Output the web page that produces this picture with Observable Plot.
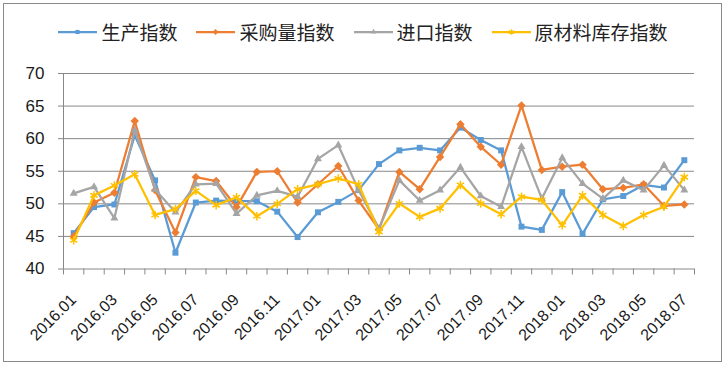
<!DOCTYPE html>
<html><head><meta charset="utf-8">
<script src="https://cdn.jsdelivr.net/npm/d3@7"></script>
<script src="https://cdn.jsdelivr.net/npm/@observablehq/plot@0.6"></script>
<style>
html,body{margin:0;padding:0;background:#fff;}
#wrap{position:relative;width:726px;height:365px;overflow:hidden;background:#fff;}
#frame{position:absolute;left:3px;top:3px;width:719px;height:359px;border:1px solid #898989;box-sizing:border-box;pointer-events:none;}
#legend{position:absolute;left:0;top:18px;width:726px;height:28px;line-height:28px;display:flex;justify-content:center;align-items:center;gap:19px;font-family:"Noto Sans CJK SC";font-size:19px;color:#222;}
.item{display:flex;align-items:center;gap:4px;}
.item svg{display:block;}
#chart svg{position:absolute;left:0;top:0;}
</style>
</head><body>
<div id="wrap"><div id="chart"></div><div id="legend"></div><div id="frame"></div></div>
<script>
const months = ["2016.01","2016.02","2016.03","2016.04","2016.05","2016.06","2016.07","2016.08","2016.09","2016.10","2016.11","2016.12",
"2017.01","2017.02","2017.03","2017.04","2017.05","2017.06","2017.07","2017.08","2017.09","2017.10","2017.11","2017.12",
"2018.01","2018.02","2018.03","2018.04","2018.05","2018.06","2018.07"];
const seriesNames = ["生产指数","采购量指数","进口指数","原材料库存指数"];
const production = [45.5,49.5,49.9,60.5,53.6,42.5,50.2,50.5,50.4,50.4,48.8,44.9,48.7,50.3,52.1,56.1,58.2,58.6,58.2,61.7,59.8,58.2,46.5,46.0,51.8,45.4,50.7,51.2,52.9,52.5,56.7];
const purchase = [45.0,50.2,51.7,62.7,52.1,45.6,54.1,53.5,49.5,54.9,55.0,50.2,53.0,55.8,50.5,46.1,54.9,52.25,57.2,62.2,58.75,56.0,65.1,55.2,55.7,56.0,52.25,52.45,53.0,49.7,49.9];
const imports = [51.6,52.6,47.8,61.3,52.2,48.7,53.0,53.1,48.5,51.3,52.0,51.1,56.9,59.0,52.1,46.2,53.6,50.5,52.1,55.6,51.2,49.55,58.75,50.8,57.05,53.1,50.8,53.6,52.1,55.9,52.1];
const stock = [44.4,51.3,52.8,54.55,48.3,49.2,52.0,49.8,51.0,48.1,50.0,52.25,53.0,53.9,53.0,45.7,50.05,48.0,49.3,52.9,50.05,48.4,51.1,50.6,46.7,51.3,48.3,46.6,48.3,49.55,54.1];
const yTicks = [40,45,50,55,60,65,70];
const colors = ["#5B9BD5","#ED7D31","#A5A5A5","#FFC000"];
const symbols = ["square2","diamond2","triangle2","asterisk"];

const seriesValues = [production, purchase, imports, stock];
const rows = seriesValues.map(vals => vals.map((v, i) => ({i, v})));
const labelIdx = months.map((_, i) => i).filter(i => i % 2 === 0);
const boundaries = d3.range(months.length + 1).map(i => i - 0.5);

const marks = [
  Plot.gridY({ticks: yTicks, stroke: "#888", strokeOpacity: 1}),
  Plot.ruleX([boundaries[0]], {stroke: "#888"}),
  Plot.axisY({ticks: yTicks, tickSize: 5, tickPadding: 14, stroke: "#888", fontSize: 17, fill: "#1a1a1a", label: null}),
  Plot.axisX({ticks: boundaries, tickSize: 6, tickFormat: () => "", stroke: "#888", label: null}),
  Plot.axisX({ticks: labelIdx, tickSize: 0, tickPadding: 28, tickRotate: -45, tickFormat: i => months[i], fontSize: 16, fill: "#1a1a1a", label: null})
];
rows.forEach((data, k) => {
  marks.push(Plot.line(data, {x: "i", y: "v", stroke: colors[k], strokeWidth: 2.25, strokeLinejoin: "round"}));
  if (symbols[k] === "asterisk") {
    marks.push(Plot.dot(data, {x: "i", y: "v", symbol: symbols[k], stroke: colors[k], strokeWidth: 1.5, r: 4}));
  } else {
    marks.push(Plot.dot(data, {x: "i", y: "v", symbol: symbols[k], fill: colors[k], r: 3.8}));
  }
});

const chart = Plot.plot({
  width: 726, height: 365,
  marginTop: 73, marginBottom: 96.5, marginLeft: 63, marginRight: 32,
  x: {type: "linear", domain: [boundaries[0], boundaries[boundaries.length - 1]], label: null},
  y: {domain: [yTicks[0], yTicks[yTicks.length - 1]], label: null},
  style: {fontFamily: "Liberation Sans", fontSize: "16px", color: "#1a1a1a", background: "transparent", overflow: "visible"},
  marks
});
document.getElementById("chart").appendChild(chart);

// legend
const legend = document.getElementById("legend");
seriesNames.forEach((name, k) => {
  const item = document.createElement("div");
  item.className = "item";
  const sym = d3.symbol().type({square2: d3.symbolSquare2, diamond2: d3.symbolDiamond2, triangle2: d3.symbolTriangle2, asterisk: d3.symbolAsterisk}[symbols[k]]).size(22)();
  const isStroke = symbols[k] === "asterisk";
  item.innerHTML = `<svg width="39" height="12"><line x1="0" x2="39" y1="6" y2="6" stroke="${colors[k]}" stroke-width="2.25"/><path transform="translate(19.5,6)" d="${sym}" ${isStroke ? `fill="none" stroke="${colors[k]}" stroke-width="1.2"` : `fill="${colors[k]}"`}/></svg><span>${name}</span>`;
  legend.appendChild(item);
});
</script>
</body></html>
